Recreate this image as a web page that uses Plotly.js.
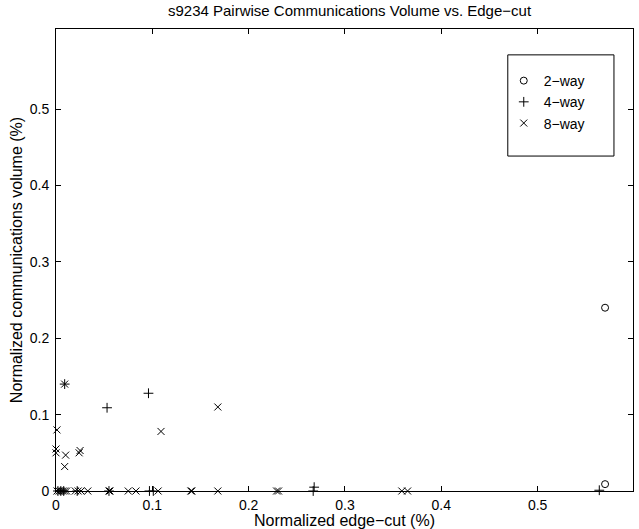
<!DOCTYPE html>
<html>
<head>
<meta charset="utf-8">
<script src="https://cdn.plot.ly/plotly-3.0.1.min.js"></script>
<style>html,body{margin:0;padding:0;background:#fff;}#chart{width:639px;height:529px;}</style>
</head>
<body>
<div id="chart"></div>
<script>
// 2-way partitions
const twoWayX = [0.570, 0.570];
const twoWayY = [0.240, 0.009];
// 4-way partitions
const fourWayX = [0.009, 0.053, 0.096, 0.002, 0.005, 0.008, 0.022, 0.055, 0.097, 0.101, 0.267, 0.268, 0.564];
const fourWayY = [0.140, 0.109, 0.128, 0.000, 0.000, 0.000, 0.000, 0.000, 0.000, 0.000, 0.000, 0.005, 0.001];
// 8-way partitions
const eightWayX = [0.009, 0.001, 0.000, 0.000, 0.010, 0.009, 0.024, 0.025, 0.109, 0.168,
  0.001, 0.003, 0.005, 0.007, 0.009, 0.011, 0.020, 0.023, 0.026, 0.033, 0.055, 0.056,
  0.075, 0.083, 0.106, 0.140, 0.141, 0.168, 0.229, 0.231, 0.359, 0.365];
const eightWayY = [0.140, 0.080, 0.055, 0.050, 0.047, 0.032, 0.050, 0.053, 0.078, 0.110,
  0, 0, 0, 0, 0, 0, 0, 0, 0, 0, 0, 0,
  0, 0, 0, 0, 0, 0, 0, 0, 0, 0];
const tickVals = [0, 0.1, 0.2, 0.3, 0.4, 0.5];
const tickText = ['0', '0.1', '0.2', '0.3', '0.4', '0.5'];

const font = 'Liberation Sans, Arial, Helvetica, sans-serif';
const traces = [
  {x: twoWayX, y: twoWayY, name: '2\u2212way', type: 'scatter', mode: 'markers',
   marker: {symbol: 'circle-open', size: 7, color: '#000', line: {width: 1, color: '#000'}}, cliponaxis: false},
  {x: fourWayX, y: fourWayY, name: '4\u2212way', type: 'scatter', mode: 'markers',
   marker: {symbol: 'cross-thin-open', size: 7, color: '#000', line: {width: 1, color: '#000'}}, cliponaxis: false},
  {x: eightWayX, y: eightWayY, name: '8\u2212way', type: 'scatter', mode: 'markers',
   marker: {symbol: 'x-thin-open', size: 7, color: '#000', line: {width: 1, color: '#000'}}, cliponaxis: false}
];
const axisBase = {
  showline: true, linecolor: '#000', linewidth: 1, mirror: 'allticks',
  ticks: 'inside', ticklen: 5, tickcolor: '#000', tickwidth: 1,
  showgrid: false, zeroline: false, tickvals: tickVals, ticktext: tickText,
  tickfont: {family: font, size: 14, color: '#000'}
};
const layout = {
  width: 639, height: 529,
  margin: {l: 56, r: 6, t: 29, b: 38},
  paper_bgcolor: '#fff', plot_bgcolor: '#fff',
  font: {family: font, color: '#000'},
  title: {text: 's9234 Pairwise Communications Volume vs. Edge\u2212cut',
          font: {family: font, size: 15, color: '#000'}, x: 0.547, xanchor: 'center', y: 0.979, yanchor: 'middle'},
  xaxis: Object.assign({}, axisBase, {range: [0, 0.599], ticklabelstandoff: 1,
    title: {text: 'Normalized edge\u2212cut (%)', font: {family: font, size: 16, color: '#000'}, standoff: 0}}),
  yaxis: Object.assign({}, axisBase, {range: [0, 0.605], ticklabelstandoff: 3,
    title: {text: 'Normalized communications volume (%)', font: {family: font, size: 16, color: '#000'}, standoff: 3}}),
  showlegend: true,
  legend: {x: 0.776, y: 0.922, xanchor: 'left', yanchor: 'top',
           bgcolor: 'rgba(0,0,0,0)', borderwidth: 0,
           font: {family: font, size: 14, color: '#000'}},
  shapes: [{type: 'rect', xref: 'paper', yref: 'paper', x0: 0.783, x1: 0.967, y0: 0.725, y1: 0.944,
            line: {color: '#000', width: 1}, fillcolor: '#fff', layer: 'below'}]
};
Plotly.newPlot('chart', traces, layout, {displayModeBar: false, staticPlot: true});
</script>
</body>
</html>
